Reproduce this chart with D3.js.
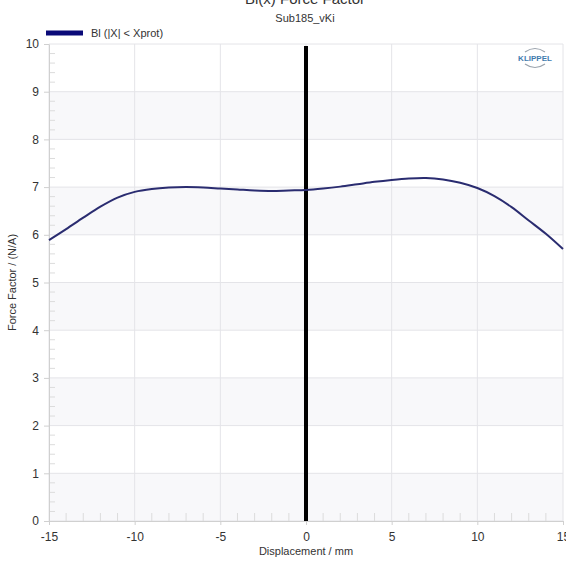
<!DOCTYPE html>
<html>
<head>
<meta charset="utf-8">
<script src="https://cdn.jsdelivr.net/npm/d3@7"></script>
<style>
  body { margin: 0; background: #fff; }
  svg { font-family: Arial, "Liberation Sans", sans-serif; }
</style>
</head>
<body>
<svg id="chart" width="566" height="561"></svg>
<script>
const displacement = [-15, -14, -13, -12, -11, -10, -9, -8, -7, -6, -5, -4, -3, -2, -1, 0, 1, 2, 3, 4, 5, 6, 7, 8, 9, 10, 11, 12, 13, 14, 15];
const forceFactor = [5.89, 6.12, 6.36, 6.59, 6.78, 6.9, 6.96, 6.99, 7.0, 6.99, 6.97, 6.95, 6.93, 6.92, 6.93, 6.94, 6.97, 7.01, 7.06, 7.11, 7.15, 7.18, 7.19, 7.16, 7.09, 6.98, 6.81, 6.58, 6.3, 6.02, 5.7];
const xTicks = [-15, -10, -5, 0, 5, 10, 15];
const yTicks = [0, 1, 2, 3, 4, 5, 6, 7, 8, 9, 10];
const seriesName = "Bl (|X| < Xprot)";

const svg = d3.select("#chart");
const margin = { left: 49, right: 3, top: 44, bottom: 40 };
const width = 566, height = 561;

const x = d3.scaleLinear().domain([-15, 15]).range([margin.left, width - margin.right]);
const y = d3.scaleLinear().domain([0, 10]).range([height - margin.bottom, margin.top]);

// alternating bands
svg.append("g")
  .selectAll("rect")
  .data(yTicks.filter((d) => d < 10 && d % 2 === 0))
  .join("rect")
  .attr("x", x(-15))
  .attr("width", x(15) - x(-15))
  .attr("y", (d) => y(d + 1))
  .attr("height", (d) => y(d) - y(d + 1))
  .attr("fill", "#f8f8fa");

// grid
svg.append("g")
  .selectAll("line")
  .data(yTicks)
  .join("line")
  .attr("x1", x(-15)).attr("x2", x(15))
  .attr("y1", (d) => y(d)).attr("y2", (d) => y(d))
  .attr("stroke", "#e4e4e8");

svg.append("g")
  .selectAll("line")
  .data(xTicks)
  .join("line")
  .attr("x1", (d) => x(d)).attr("x2", (d) => x(d))
  .attr("y1", y(0)).attr("y2", y(10))
  .attr("stroke", "#e4e4e8");

// minor ticks
const yMinor = d3.range(0, 10.001, 0.2).filter((d) => Math.abs(d - Math.round(d)) > 0.01);
svg.append("g")
  .selectAll("line")
  .data(yMinor)
  .join("line")
  .attr("x1", x(-15)).attr("x2", x(-15) + 6)
  .attr("y1", (d) => y(d)).attr("y2", (d) => y(d))
  .attr("stroke", "#dcdcdc");

const xMinor = d3.range(-15, 16, 1).filter((d) => d % 5 !== 0);
svg.append("g")
  .selectAll("line")
  .data(xMinor)
  .join("line")
  .attr("x1", (d) => x(d)).attr("x2", (d) => x(d))
  .attr("y1", y(0)).attr("y2", y(0) - 8)
  .attr("stroke", "#dcdcdc");

// axes
const xAxis = svg.append("g")
  .attr("transform", `translate(0,${y(0)})`)
  .call(d3.axisBottom(x).tickValues(xTicks).tickFormat((d) => String(d)).tickSize(4).tickSizeOuter(0));
const yAxis = svg.append("g")
  .attr("transform", `translate(${x(-15)},0)`)
  .call(d3.axisLeft(y).tickValues(yTicks).tickFormat((d) => String(d)).tickSize(5).tickSizeOuter(0));

[xAxis, yAxis].forEach((ax) => {
  ax.select(".domain").attr("stroke", "#d0d0d0");
  ax.selectAll(".tick line").attr("stroke", "#d0d0d0");
  ax.selectAll("text").attr("fill", "#333").style("font-size", "12px");
});
xAxis.selectAll("text").attr("dy", "1.05em");
yAxis.selectAll("text").attr("dx", "-2px");

// zero line
svg.append("line")
  .attr("x1", x(0)).attr("x2", x(0))
  .attr("y1", y(0)).attr("y2", y(9.96))
  .attr("stroke", "#000")
  .attr("stroke-width", 4);

// curve
const line = d3.line()
  .x((d, i) => x(displacement[i]))
  .y((d) => y(d))
  .curve(d3.curveCatmullRom);

svg.append("path")
  .datum(forceFactor)
  .attr("d", line)
  .attr("fill", "none")
  .attr("stroke", "#2a2c70")
  .attr("stroke-width", 2);

// titles
svg.append("text")
  .attr("x", 305).attr("y", 4)
  .attr("text-anchor", "middle")
  .attr("fill", "#333")
  .style("font-size", "15px")
  .text("Bl(x) Force Factor");

svg.append("text")
  .attr("x", 305).attr("y", 22)
  .attr("text-anchor", "middle")
  .attr("fill", "#333")
  .style("font-size", "11px")
  .text("Sub185_vKi");

// legend
svg.append("line")
  .attr("x1", 46).attr("x2", 83)
  .attr("y1", 33).attr("y2", 33)
  .attr("stroke", "#0a0a78")
  .attr("stroke-width", 5);
svg.append("text")
  .attr("x", 91).attr("y", 37)
  .attr("fill", "#333")
  .style("font-size", "11px")
  .text(seriesName);

// axis labels
svg.append("text")
  .attr("x", 306).attr("y", 555)
  .attr("text-anchor", "middle")
  .attr("fill", "#333")
  .style("font-size", "11px")
  .text("Displacement / mm");

svg.append("text")
  .attr("transform", `translate(16,${(y(0) + y(10)) / 2}) rotate(-90)`)
  .attr("text-anchor", "middle")
  .attr("fill", "#333")
  .style("font-size", "11px")
  .text("Force Factor / (N/A)");

// logo
const logo = svg.append("g").attr("transform", "translate(535,58)");
logo.append("path")
  .attr("d", "M-10,-6 Q0,-13 10,-6")
  .attr("fill", "none").attr("stroke", "#9aa3ad").attr("stroke-width", 1.2);
logo.append("path")
  .attr("d", "M-10,6 Q0,13 10,6")
  .attr("fill", "none").attr("stroke", "#9aa3ad").attr("stroke-width", 1.2);
logo.append("text")
  .attr("text-anchor", "middle").attr("y", 3)
  .attr("fill", "#3f7cae")
  .style("font-size", "8px").style("font-weight", "bold")
  .text("KLIPPEL");
</script>
</body>
</html>
